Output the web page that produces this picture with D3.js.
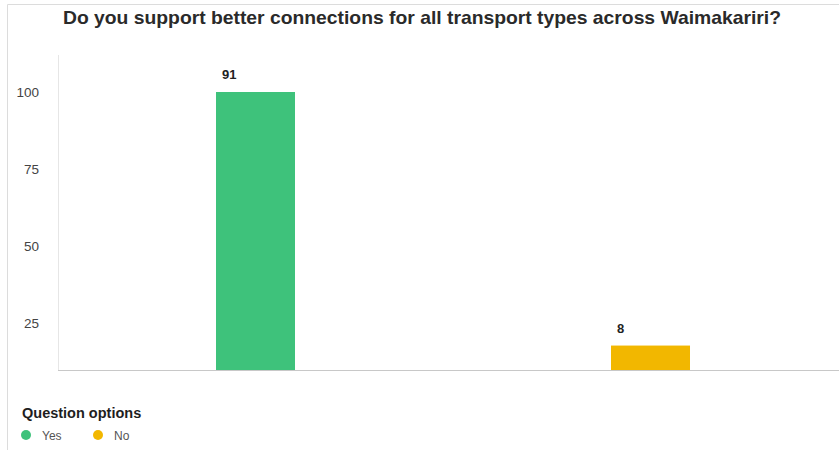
<!DOCTYPE html>
<html>
<head>
<meta charset="utf-8">
<script src="https://cdn.jsdelivr.net/npm/d3@7"></script>
<style>
  html, body { margin: 0; padding: 0; background: #fff; }
  svg { display: block; font-family: "Liberation Sans", Arial, Helvetica, sans-serif; }
</style>
</head>
<body>
<svg id="chart" width="839" height="450"></svg>
<script>
// Survey responses
const title = "Do you support better connections for all transport types across Waimakariri?";
const categories = ["Yes", "No"];
const values = [91, 8];
const colors = ["#3ec27b", "#f2b700"];
const tickValues = [25, 50, 75, 100];
const legendTitle = "Question options";

const W = 839, H = 450;
const svg = d3.select("#chart");

// Outer panel frame
svg.append("path")
  .attr("d", `M7.5,${H} V4.5 H${W}`)
  .attr("fill", "none")
  .attr("stroke", "#dcdcdc")
  .attr("stroke-width", 1);

// Title
svg.append("text")
  .attr("x", 63).attr("y", 24)
  .attr("font-size", 18.5).attr("font-weight", "bold")
  .attr("fill", "#2a2a2a")
  .attr("textLength", 718)
  .attr("lengthAdjust", "spacingAndGlyphs")
  .text(title);

// Plot geometry
const plotLeft = 58, plotRight = 848, plotTop = 92, plotBottom = 370;

const x = d3.scaleBand()
  .domain(categories)
  .range([plotLeft, plotRight])
  .paddingInner(0.8)
  .paddingOuter(0.4);

// Bar heights: zero at the baseline, largest value at the top of the plot
const y = d3.scaleLinear()
  .domain([0, d3.max(values)])
  .range([plotBottom, plotTop]);

// Scale used by the value axis labels
const yAxisScale = d3.scaleLinear()
  .domain([0, 100])
  .range([400, 92]);

// Faint vertical axis line
svg.append("line")
  .attr("x1", plotLeft + 0.5).attr("x2", plotLeft + 0.5)
  .attr("y1", 55).attr("y2", plotBottom)
  .attr("stroke", "#e6e6e6");

// Y axis labels
const yAxis = d3.axisLeft(yAxisScale)
  .tickValues(tickValues)
  .tickSize(0)
  .tickPadding(0)
  .tickFormat(d3.format("d"));

const gy = svg.append("g")
  .attr("transform", "translate(39,0)")
  .call(yAxis);
gy.select(".domain").remove();
gy.selectAll("text")
  .attr("font-size", 13.5)
  .attr("fill", "#444")
  .attr("font-family", "\"Liberation Sans\", Arial, sans-serif");

// Bars
const data = categories.map((c, i) => ({ cat: c, value: values[i], color: colors[i] }));

svg.append("g").selectAll("rect")
  .data(data)
  .join("rect")
  .attr("x", d => x(d.cat))
  .attr("y", d => y(d.value))
  .attr("width", x.bandwidth())
  .attr("height", d => plotBottom - y(d.value))
  .attr("fill", d => d.color);

// Baseline
svg.append("line")
  .attr("x1", plotLeft).attr("x2", W)
  .attr("y1", plotBottom + 0.5).attr("y2", plotBottom + 0.5)
  .attr("stroke", "#c8c8c8");

// Value labels
svg.append("g").selectAll("text")
  .data(data)
  .join("text")
  .attr("x", d => x(d.cat) + 6)
  .attr("y", d => y(d.value) - 13)
  .attr("font-size", 13)
  .attr("font-weight", "bold")
  .attr("fill", "#222")
  .text(d => d.value);

// Legend
svg.append("text")
  .attr("x", 22).attr("y", 418)
  .attr("font-size", 14.5).attr("font-weight", "bold")
  .attr("fill", "#1e1e1e")
  .text(legendTitle);

const legendX = [26, 98];
const items = svg.append("g").selectAll("g")
  .data(data)
  .join("g")
  .attr("transform", (d, i) => `translate(${legendX[i]},435)`);

items.append("circle")
  .attr("r", 5)
  .attr("fill", d => d.color);

items.append("text")
  .attr("x", 16).attr("y", 4.5)
  .attr("font-size", 12)
  .attr("fill", "#555")
  .text(d => d.cat);
</script>
</body>
</html>
